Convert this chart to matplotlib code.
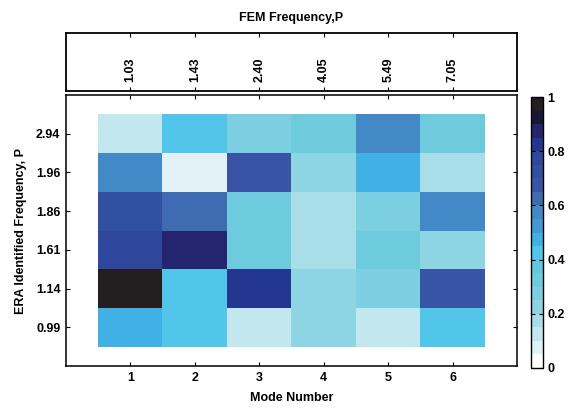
import matplotlib
matplotlib.use("Agg")
import matplotlib.pyplot as plt
import numpy as np
from matplotlib.colors import ListedColormap
from matplotlib.transforms import blended_transform_factory

plt.rcParams['font.family'] = ['Liberation Sans', 'DejaVu Sans']
plt.rcParams['font.weight'] = 'bold'

modes = [1, 2, 3, 4, 5, 6]
fem_labels = ["1.03", "1.43", "2.40", "4.05", "5.49", "7.05"]
era_labels = ["0.99", "1.14", "1.61", "1.86", "1.96", "2.94"]  # bottom to top

# values per ERA row (bottom to top), columns = mode 1..6
row_099 = [0.47, 0.42, 0.12, 0.22, 0.12, 0.42]
row_114 = [0.97, 0.42, 0.82, 0.22, 0.27, 0.67]
row_161 = [0.77, 0.87, 0.32, 0.17, 0.32, 0.22]
row_186 = [0.72, 0.62, 0.32, 0.17, 0.27, 0.57]
row_196 = [0.57, 0.07, 0.67, 0.22, 0.47, 0.17]
row_294 = [0.12, 0.42, 0.27, 0.32, 0.57, 0.32]
data = np.array([row_099, row_114, row_161, row_186, row_196, row_294])

cmap_colors = ["#ffffff", "#e1f1f6", "#c3e7ee", "#a9dde8", "#8ed5e3",
               "#7bcfe0", "#6ecbdd", "#62c8e0", "#52c6ea", "#41b0e4",
               "#4399d6", "#4389c7", "#3f6bb2", "#3854a4", "#3250a2",
               "#2f479c", "#243790", "#24256e", "#171838", "#231f20"]
cmap = ListedColormap(cmap_colors)

W, H = 569, 408
fig = plt.figure(figsize=(W / 100, H / 100), dpi=100)

ax = fig.add_axes([66 / W, (H - 366) / H, 451 / W, 271 / H])
im = ax.imshow(data, origin='lower', extent=(0.5, 6.5, 0.5, 6.5),
               cmap=cmap, vmin=0, vmax=1, aspect='auto', interpolation='nearest')
ax.set_xlim(0, 7)
ax.set_ylim(0, 7)
ax.set_xticks(modes)
ax.set_xticklabels([str(m) for m in modes], fontsize=9, fontweight='bold')
ax.set_yticks(range(1, 7))
ax.set_yticklabels(era_labels, fontsize=9, fontweight='bold')
ax.tick_params(direction='in', top=True, right=True, length=3, width=0.8, pad=4)
for s in ax.spines.values():
    s.set_linewidth(1.1)
ax.set_xlabel("Mode Number", fontsize=9, fontweight='bold', labelpad=6)
ax.set_ylabel("ERA Identified Frequency, P", fontsize=9, fontweight='bold', labelpad=6)

tax = fig.add_axes([66 / W, (H - 91) / H, 451 / W, 58 / H])
tax.set_xlim(0, 7)
tax.set_ylim(0, 1)
tax.set_xticks(modes)
tax.set_xticklabels([])
tax.set_yticks([])
tax.tick_params(direction='in', length=3, width=0.8, top=True)
for s in tax.spines.values():
    s.set_linewidth(1.3)
tr = blended_transform_factory(tax.transData, tax.transAxes)
for m, lab in zip(modes, fem_labels):
    tax.text(m, 0.15, lab, rotation=90, ha='center', va='bottom',
             fontsize=9, fontweight='bold', transform=tr)
tax.set_title("FEM Frequency,P", fontsize=9, fontweight='bold', pad=9)

cax = fig.add_axes([531 / W, (H - 368) / H, 12 / W, 271 / H])
cb = fig.colorbar(im, cax=cax, ticks=[0, 0.2, 0.4, 0.6, 0.8, 1])
cb.ax.set_yticklabels(["0", "0.2", "0.4", "0.6", "0.8", "1"], fontsize=9, fontweight='bold')
cax.tick_params(direction='in', left=True, right=True, length=3, width=0.8, pad=3)
cb.outline.set_linewidth(1.0)

fig.savefig("out.png", dpi=100)
